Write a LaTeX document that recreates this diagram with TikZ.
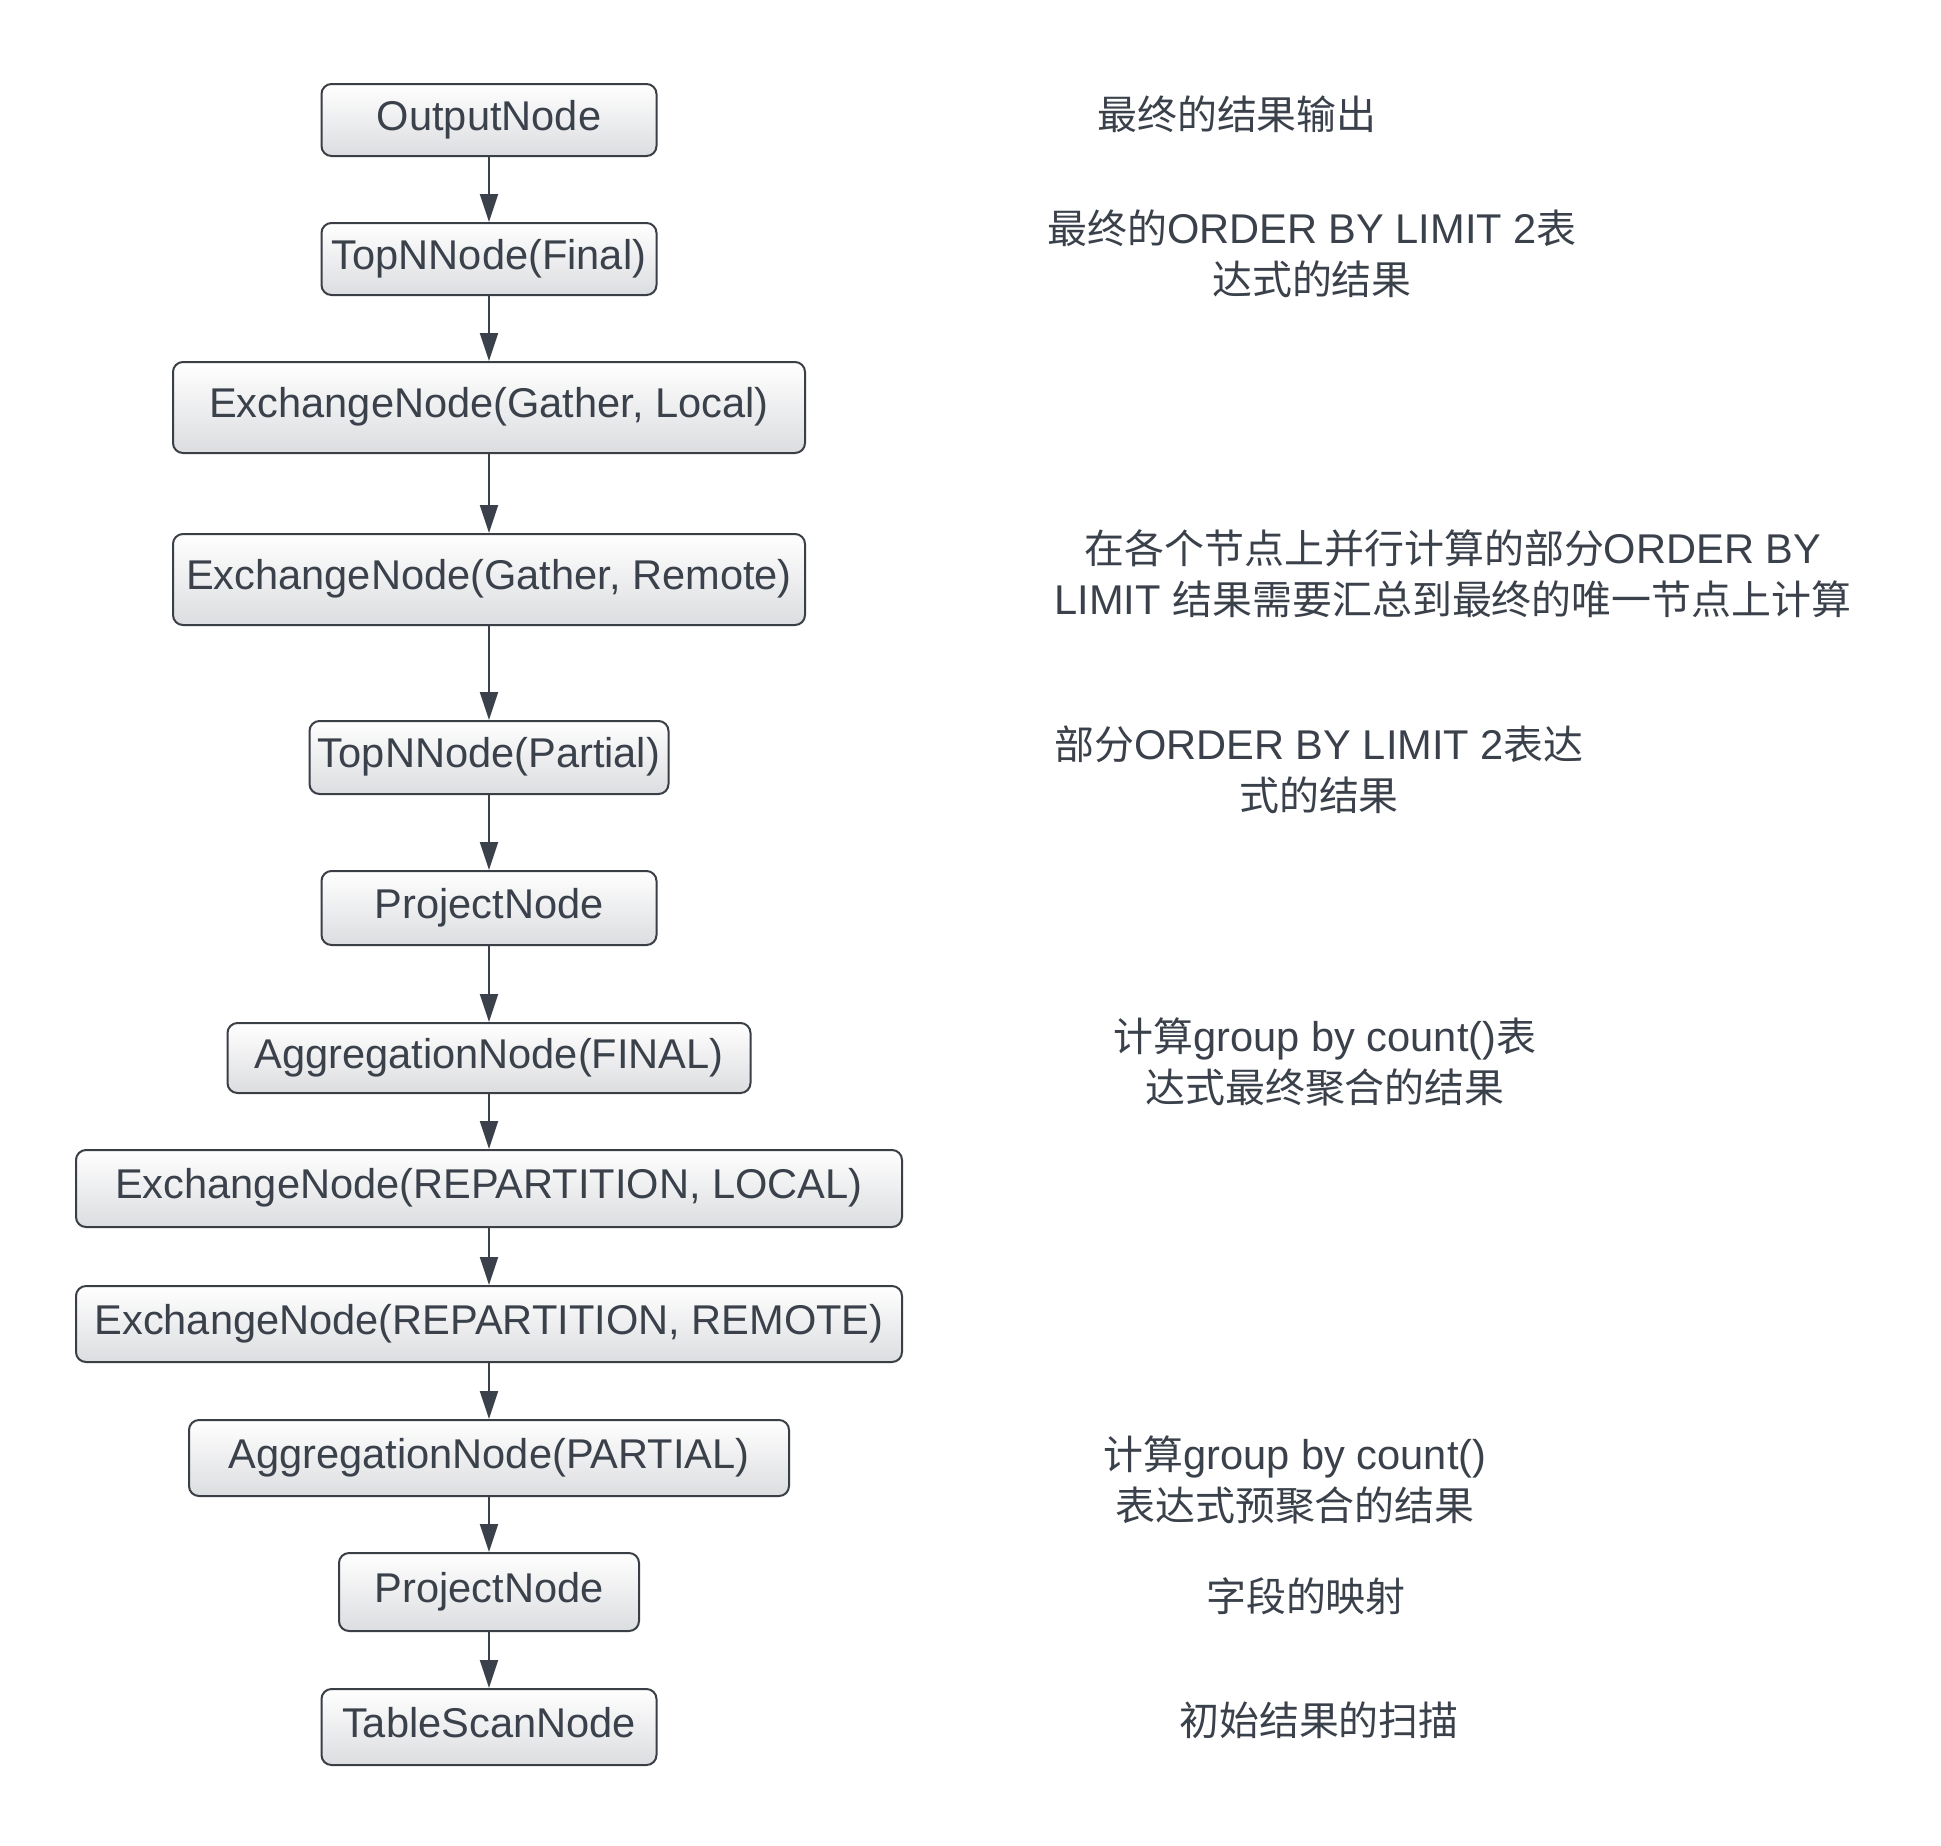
\documentclass[tikz,border=0pt]{standalone}
\usepackage{fontspec}
\setmainfont{Liberation Sans}
\newfontfamily\cjk{Noto Sans CJK SC}[Scale=0.96]
\usepackage{tikz}
\usetikzlibrary{arrows.meta,positioning}
\definecolor{boxline}{HTML}{3A3E45}
\definecolor{inkgray}{HTML}{3A414B}
\definecolor{shadegray}{HTML}{DCDDE0}
\newcommand{\zh}[1]{{\cjk #1}}
\tikzstyle{block} = [rectangle, draw=boxline, line width=2pt, top color=white, bottom color=shadegray,
    rounded corners=10pt, text=inkgray, font=\fontsize{41.6}{48}\selectfont,
    text height=30pt, text depth=10pt, inner sep=0pt]
\tikzstyle{line} = [draw=inkgray, line width=2pt, -{Triangle[length=28pt,width=18pt]}]
\tikzstyle{note} = [text=inkgray, align=center, font=\fontsize{41.6}{51}\selectfont]

\begin{document}
\begin{tikzpicture}[x=1pt, y=-1pt, node distance=60pt]
    \fill[white] (0,0) rectangle (1941,1845);
    \useasboundingbox (0,0) rectangle (1941,1845);
    % Place nodes
    \node [block, minimum width=335pt, minimum height=72pt] (out) at (489,120) {OutputNode};
    \node [block, minimum width=335pt, minimum height=72pt, below = 65pt of out] (topf) {TopNNode(Final)};
    \node [block, minimum width=632pt, minimum height=91pt, below = 65pt of topf] (exgl) {ExchangeNode(Gather, Local)};
    \node [block, minimum width=632pt, minimum height=91pt, below = 79pt of exgl] (exgr) {ExchangeNode(Gather, Remote)};
    \node [block, minimum width=359pt, minimum height=73pt, below = 94pt of exgr] (topp) {TopNNode(Partial)};
    \node [block, minimum width=335pt, minimum height=74pt, below = 75pt of topp] (prj1) {ProjectNode};
    \node [block, minimum width=523pt, minimum height=70pt, below = 76pt of prj1] (aggf) {AggregationNode(FINAL)};
    \node [block, minimum width=826pt, minimum height=77pt, below = 55pt of aggf] (exrl) {ExchangeNode(REPARTITION, LOCAL)};
    \node [block, minimum width=826pt, minimum height=76pt, below = 57pt of exrl] (exrr) {ExchangeNode(REPARTITION, REMOTE)};
    \node [block, minimum width=600pt, minimum height=76pt, below = 56pt of exrr] (aggp) {AggregationNode(PARTIAL)};
    \node [block, minimum width=300pt, minimum height=78pt, below = 55pt of aggp] (prj2) {ProjectNode};
    \node [block, minimum width=335pt, minimum height=76pt, below = 56pt of prj2] (scan) {TableScanNode};
    \draw [line] (out) -- (topf);
    \draw [line] (topf) -- (exgl);
    \draw [line] (exgl) -- (exgr);
    \draw [line] (exgr) -- (topp);
    \draw [line] (topp) -- (prj1);
    \draw [line] (prj1) -- (aggf);
    \draw [line] (aggf) -- (exrl);
    \draw [line] (exrl) -- (exrr);
    \draw [line] (exrr) -- (aggp);
    \draw [line] (aggp) -- (prj2);
    \draw [line] (prj2) -- (scan);

    % Notes
    \node [note] (n1) at (1237,114) {\zh{最终的结果输出}};
    \node [note] (n2) at (1312,254) {\zh{最终的}ORDER BY LIMIT 2\zh{表}\\\zh{达式的结果}};
    \node [note] (n3) at (1453,574) {\zh{在各个节点上并行计算的部分}ORDER BY\\LIMIT \zh{结果需要汇总到最终的唯一节点上计算}};
    \node [note] (n4) at (1319,770) {\zh{部分}ORDER BY LIMIT 2\zh{表达}\\\zh{式的结果}};
    \node [note] (n5) at (1325,1062) {\zh{计算}group by count()\zh{表}\\\zh{达式最终聚合的结果}};
    \node [note] (n6) at (1295,1480) {\zh{计算}group by count()\\\zh{表达式预聚合的结果}};
    \node [note] (n7) at (1306,1596) {\zh{字段的映射}};
    \node [note] (n8) at (1319,1720) {\zh{初始结果的扫描}};
\end{tikzpicture}
\end{document}
